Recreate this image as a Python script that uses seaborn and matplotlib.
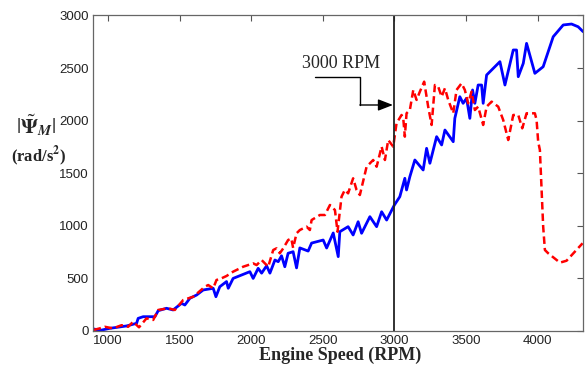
import numpy as np
import pandas as pd
import matplotlib
matplotlib.use("Agg")
import matplotlib.pyplot as plt
import seaborn as sns

blue_rpm = [900, 943, 1012, 1130, 1200, 1211, 1246, 1328, 1351, 1409, 1455, 1514, 1537, 1572, 1619, 1665,
            1735, 1754, 1781, 1828, 1840, 1874, 1991, 2014, 2049, 2073, 2108, 2131, 2166, 2189, 2212, 2235,
            2258, 2293, 2317, 2340, 2398, 2422, 2503, 2527, 2573, 2608, 2619, 2677, 2712, 2747, 2771, 2829,
            2876, 2911, 2946, 3000, 3038, 3073, 3085, 3108, 3143, 3201, 3225, 3248, 3295, 3330, 3353, 3411,
            3422, 3457, 3480, 3504, 3527, 3546, 3562, 3585, 3609, 3620, 3644, 3737, 3772, 3830, 3853, 3865,
            3900, 3923, 3981, 4039, 4109, 4179, 4237, 4283, 4318]
blue_vals = [20, 5, 25, 48, 73, 120, 136, 136, 193, 216, 200, 263, 247, 311, 342, 390,
             406, 326, 421, 470, 406, 500, 564, 500, 596, 550, 620, 550, 675, 659, 715, 611,
             739, 754, 600, 790, 760, 836, 865, 789, 932, 707, 944, 992, 913, 1039, 929, 1087,
             992, 1134, 1055, 1198, 1277, 1452, 1341, 1467, 1626, 1531, 1737, 1595, 1848, 1769, 1911, 1800,
             2022, 2228, 2165, 2213, 2022, 2292, 2165, 2339, 2339, 2165, 2434, 2561, 2339, 2672, 2672, 2418,
             2545, 2735, 2450, 2513, 2798, 2910, 2919, 2893, 2846]

red_rpm = [900, 943, 978, 1036, 1095, 1141, 1176, 1217, 1269, 1316, 1351, 1421, 1467, 1526, 1596, 1677,
           1700, 1735, 1758, 1793, 1828, 1874, 1944, 2014, 2038, 2073, 2119, 2154, 2177, 2200, 2224, 2258,
           2280, 2293, 2317, 2340, 2387, 2410, 2422, 2480, 2515, 2550, 2585, 2603, 2631, 2654, 2677, 2712,
           2736, 2759, 2806, 2852, 2876, 2911, 2934, 2957, 2992, 3015, 3050, 3062, 3073, 3085, 3108, 3132,
           3155, 3178, 3208, 3236, 3260, 3283, 3306, 3330, 3353, 3376, 3411, 3434, 3469, 3492, 3515, 3539,
           3562, 3585, 3620, 3644, 3679, 3725, 3760, 3795, 3830, 3865, 3893, 3923, 3981, 3993, 4004, 4016,
           4039, 4051, 4074, 4156, 4202, 4314]
red_vals = [10, 25, 40, 25, 55, 40, 88, 35, 120, 105, 200, 216, 200, 295, 326, 421,
            437, 406, 485, 501, 523, 564, 611, 643, 627, 675, 611, 770, 786, 739, 786, 865,
            880, 790, 929, 960, 992, 960, 1055, 1103, 1103, 1198, 1150, 944, 1277, 1341, 1309, 1452,
            1341, 1293, 1562, 1626, 1562, 1753, 1626, 1816, 1753, 1975, 2054, 2022, 1848, 2070, 2101, 2292,
            2197, 2276, 2371, 2133, 1959, 2339, 2323, 2228, 2308, 2197, 2070, 2292, 2355, 2292, 2165, 2276,
            2101, 2133, 1959, 2133, 2181, 2133, 2006, 1816, 2054, 2054, 1927, 2070, 2070, 2006, 1800, 1721,
            992, 770, 739, 650, 668, 834]

x_ticks = [1000, 1500, 2000, 2500, 3000, 3500, 4000]
y_ticks = [0, 500, 1000, 1500, 2000, 2500, 3000]
marker_rpm = 3000
marker_label = "3000 RPM"

sns.set_style("white")
plt.rcParams['font.family'] = ['Liberation Sans', 'DejaVu Sans']
plt.rcParams['mathtext.fontset'] = 'stix'

fig = plt.figure(figsize=(5.88, 3.69), dpi=100)
ax = fig.add_axes([0.158, 0.103, 0.833, 0.855])

df_b = pd.DataFrame({'rpm': blue_rpm, 'val': blue_vals})
df_r = pd.DataFrame({'rpm': red_rpm, 'val': red_vals})
sns.lineplot(data=df_b, x='rpm', y='val', ax=ax, color='#0000ff', lw=2.0, sort=False, estimator=None)
sns.lineplot(data=df_r, x='rpm', y='val', ax=ax, color='#ff0000', lw=1.8, sort=False, estimator=None,
             linestyle=(0, (3, 1.6)))

ax.axvline(marker_rpm, color='#222222', lw=1.3)

ax.set_xlim(895, 4315)
ax.set_ylim(0, 3000)
ax.set_xticks(x_ticks)
ax.set_yticks(y_ticks)
ax.tick_params(direction='in', length=4, width=0.8, color='#555555', labelsize=9.5,
               top=True, right=True, labelcolor='#222222', pad=3)
for s in ax.spines.values():
    s.set_color('#666666')
    s.set_linewidth(0.9)
ax.set_xlabel('')
ax.set_ylabel('')

# annotation
ax.text(2626, 2548, marker_label, ha='center', va='center', fontsize=13,
        family=['Liberation Serif', 'DejaVu Serif'])
ax.plot([2445, 2759, 2759], [2418, 2418, 2149], color='black', lw=1.0)
ax.annotate('', xy=(2990, 2149), xytext=(2759, 2149),
            arrowprops=dict(arrowstyle='-|>,head_length=0.9,head_width=0.35', color='black', lw=1.0,
                            shrinkA=0, shrinkB=0))

fig.text(0.578, 0.038, 'Engine Speed (RPM)', ha='center', va='center', fontsize=13, fontweight='bold',
         family=['Liberation Serif', 'DejaVu Serif'])
fig.text(0.062, 0.66, r'$|\tilde{\boldsymbol{\Psi}}_{\boldsymbol{M}}|$', ha='center', va='center', fontsize=15)
fig.text(0.066, 0.578, r'(rad/s$^{\mathbf{2}}$)', ha='center', va='center', fontsize=12, fontweight='bold',
         family=['Liberation Serif', 'DejaVu Serif'])

fig.savefig('out.png', dpi=100, facecolor='white')
